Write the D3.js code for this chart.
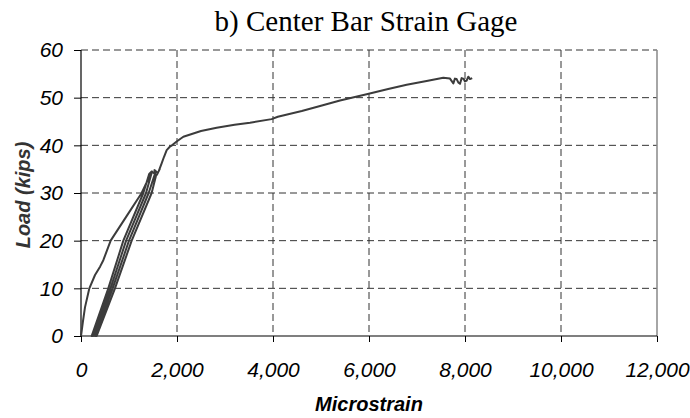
<!DOCTYPE html>
<html><head><meta charset="utf-8">
<script src="https://cdn.jsdelivr.net/npm/d3@7/dist/d3.min.js"></script>
<style>body{margin:0;background:#fff}svg{display:block}</style>
</head><body>
<svg id="c" width="690" height="418"></svg>
<script>
const title = "b) Center Bar Strain Gage";
const xLabel = "Microstrain";
const yLabel = "Load (kips)";
const xTicks = [0, 2000, 4000, 6000, 8000, 10000, 12000];
const yTicks = [0, 10, 20, 30, 40, 50, 60];

// Microstrain readings along the recorded path
const strain = [0, 40, 83, 174, 292, 400, 465, 618, 940, 1264, 1472,
  1420, 1299, 882, 569, 222,
  255, 615, 940, 1355, 1480,
  1540, 1410, 1000, 660, 290,
  326, 708, 1056, 1472, 1560, 1530, 1600, 1580, 1640, 1620, 1680, 1730, 1785, 1850, 1896, 1993, 2132, 2500, 2826, 3200, 3521, 3972, 4100, 4600, 5000, 5396, 5951, 6400, 6785, 7200, 7548, 7687, 7757, 7790, 7826, 7860, 7896, 7930, 7965, 8000, 8035, 8069, 8104, 8150];
// Load (kips) readings along the same path
const load = [0, 3, 6, 10, 12.8, 14.6, 15.9, 20, 25, 30, 34.5,
  34, 30, 20, 10, 0,
  0, 10, 20, 30, 34.5,
  34, 30, 20, 10, 0,
  0, 10, 20, 30, 33.5, 34.8, 34.2, 33.8, 35, 34.6, 36.2, 37.6, 39, 39.7, 40, 40.8, 41.8, 43, 43.7, 44.3, 44.75, 45.5, 46, 47.2, 48.3, 49.4, 50.7, 51.8, 52.7, 53.5, 54.2, 54.0, 53.0, 54.0, 53.9, 53.2, 52.9, 54.1, 54.0, 53.4, 53.6, 54.4, 53.9, 54.1];

const svg = d3.select("#c");
const L = 81, R = 657, T = 50, B = 336;
const x = d3.scaleLinear().domain([0, 12000]).range([L, R]);
const y = d3.scaleLinear().domain([0, 60]).range([B, T]);

// grid
svg.append("g").selectAll("line").data(yTicks.filter(d => d > 0)).join("line")
  .attr("x1", L).attr("x2", R).attr("y1", d => y(d)).attr("y2", d => y(d))
  .attr("stroke", "#333").attr("stroke-width", 1).attr("stroke-dasharray", "7,4");
svg.append("g").selectAll("line").data(xTicks.filter(d => d > 0 && d < 12000)).join("line")
  .attr("x1", d => x(d)).attr("x2", d => x(d)).attr("y1", T).attr("y2", B)
  .attr("stroke", "#333").attr("stroke-width", 1).attr("stroke-dasharray", "7,4");
// right border
svg.append("line").attr("x1", R).attr("x2", R).attr("y1", T).attr("y2", B)
  .attr("stroke", "#888").attr("stroke-width", 1.5);

// axes
const xAxis = d3.axisBottom(x).tickValues(xTicks).tickSize(6).tickPadding(20)
  .tickFormat(d3.format(","));
const gx = svg.append("g").attr("transform", `translate(0,${B})`).call(xAxis);
const yAxis = d3.axisLeft(y).tickValues(yTicks).tickSize(7).tickPadding(11);
const gy = svg.append("g").attr("transform", `translate(${L},0)`).call(yAxis);
[gx, gy].forEach(g => {
  g.select(".domain").attr("stroke", "#000").attr("stroke-width", 1.2);
  g.selectAll(".tick line").attr("stroke", "#000");
  g.selectAll(".tick text").attr("fill", "#000")
    .style("font-family", "'Liberation Sans', Arial, sans-serif")
    .style("font-style", "italic").style("font-size", "21px");
});
gx.select(".domain").attr("d", `M${L},0H${R}`);
gy.select(".domain").attr("d", `M0,${B}V${T}`);

// curve
const pts = strain.map((s, i) => [s, load[i]]);
svg.append("path").datum(pts)
  .attr("d", d3.line().x(d => x(d[0])).y(d => y(d[1])))
  .attr("fill", "none").attr("stroke", "#3c3c3c").attr("stroke-width", 2)
  .attr("stroke-linejoin", "round");

// labels
svg.append("text").attr("x", 366).attr("y", 31).attr("text-anchor", "middle")
  .style("font-family", "'Liberation Serif', 'Times New Roman', serif").style("font-size", "29px")
  .text(title);
svg.append("text").attr("x", (L + R) / 2).attr("y", 411).attr("text-anchor", "middle")
  .style("font-family", "'Liberation Sans', Arial, sans-serif").style("font-style", "italic")
  .style("font-weight", "bold").style("font-size", "20px").text(xLabel);
svg.append("text").attr("transform", `translate(30,${(T + B) / 2 + 2}) rotate(-90)`)
  .attr("text-anchor", "middle").attr("fill", "#333")
  .style("font-family", "'Liberation Sans', Arial, sans-serif").style("font-style", "italic")
  .style("font-weight", "bold").style("font-size", "20px").text(yLabel);
</script>
</body></html>
